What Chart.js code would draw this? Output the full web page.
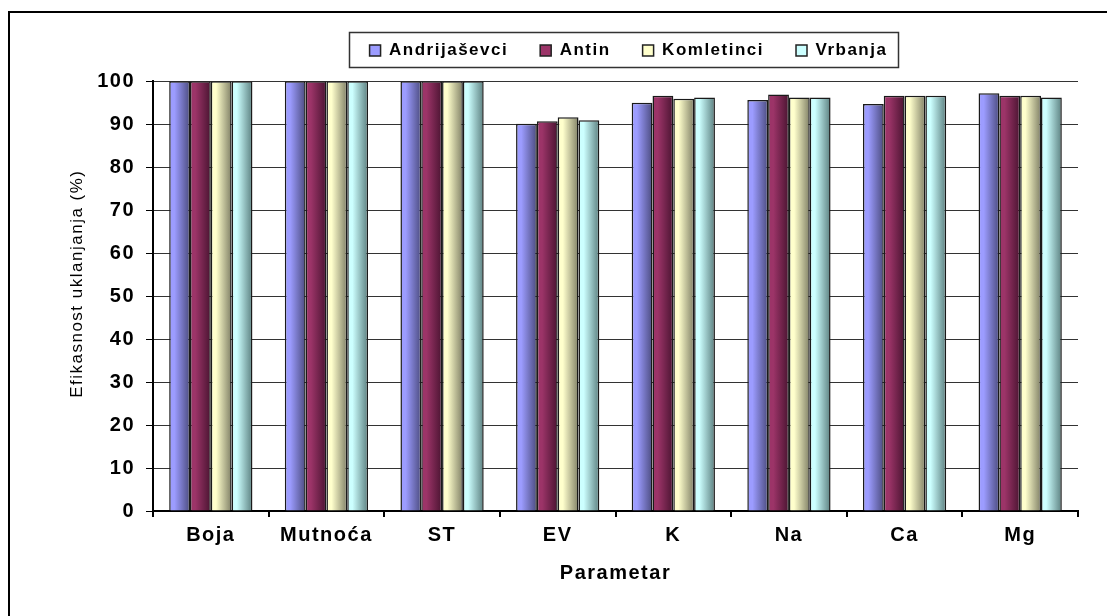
<!DOCTYPE html>
<html>
<head>
<meta charset="utf-8">
<script src="https://cdn.jsdelivr.net/npm/chart.js@4"></script>
<style>
  html, body { margin: 0; padding: 0; background: #fff; }
  #wrap { width: 1107px; height: 616px; }
</style>
</head>
<body>
<div id="wrap"><canvas id="myBarChart" width="1107" height="616"></canvas></div>
<script>
// Data til grafen
var parametri = ["Boja", "Mutnoća", "ST", "EV", "K", "Na", "Ca", "Mg"];
var andrijasevci = [100, 100, 100, 90.1, 95.0, 95.6, 94.7, 97.2];
var antin = [100, 100, 100, 90.7, 96.6, 96.9, 96.6, 96.6];
var komletinci = [100, 100, 100, 91.6, 95.9, 96.2, 96.6, 96.6];
var vrbanja = [100, 100, 100, 90.9, 96.2, 96.2, 96.6, 96.2];
var yTicks = [0, 10, 20, 30, 40, 50, 60, 70, 80, 90, 100];

var serieNames = ["Andrijaševci", "Antin", "Komletinci", "Vrbanja"];
var lightColors = ["#9c9cff", "#9c3468", "#ffffcc", "#ccffff"];
var darkColors = ["#4c4c80", "#4a1431", "#808066", "#5c8080"];
var GROUP = 0.72;

// gradient for every bar, light left -> dark right
function barGradient(c) {
    var chart = c.chart;
    var ds = c.datasetIndex;
    var xs = chart.scales.x;
    if (!chart.chartArea || !xs || c.dataIndex === undefined) return lightColors[ds];
    var catW = xs.width / parametri.length;
    var barW = catW * GROUP / 4;
    var center = xs.getPixelForValue(c.dataIndex);
    var left = center - catW * GROUP / 2 + ds * barW;
    var g = chart.ctx.createLinearGradient(left, 0, left + barW, 0);
    g.addColorStop(0, lightColors[ds]);
    g.addColorStop(0.25, lightColors[ds]);
    g.addColorStop(1, darkColors[ds]);
    return g;
}

var seriesData = [andrijasevci, antin, komletinci, vrbanja];
var data = {
    labels: parametri,
    datasets: serieNames.map(function (name, i) {
        return {
            label: name,
            data: seriesData[i],
            backgroundColor: barGradient,
            borderColor: "#1a1a1a",
            borderWidth: 1.5,
            borderSkipped: "bottom",
            categoryPercentage: GROUP,
            barPercentage: 1.0
        };
    })
};

// Excel-agtig bred skrift
function spacing(chart) { chart.ctx.letterSpacing = "1.5px"; }

// ramme og legendeboks
var framePlugin = {
    id: "frame",
    beforeUpdate: spacing,
    beforeLayout: spacing,
    afterLayout: function (chart) {
        chart.legend.left += 56;
        chart.legend.right += 56;
    },
    beforeDraw: function (chart) {
        spacing(chart);
        var ctx = chart.ctx;
        ctx.save();
        ctx.fillStyle = "#fff";
        ctx.fillRect(0, 0, chart.width, chart.height);
        ctx.strokeStyle = "#000";
        ctx.lineWidth = 2;
        ctx.beginPath();
        ctx.moveTo(1107, 12);
        ctx.lineTo(9, 12);
        ctx.lineTo(9, 616);
        ctx.stroke();
        ctx.strokeStyle = "#333";
        ctx.lineWidth = 1.5;
        ctx.strokeRect(349.5, 32.5, 549, 35);
        ctx.restore();
    }
};

var tickFont = { family: "'Liberation Sans', Arial, sans-serif", size: 20, weight: "bold" };

var options = {
    responsive: false,
    animation: false,
    layout: { padding: { left: 67, right: 29, top: 10, bottom: 31 } },
    plugins: {
        tooltip: { enabled: false },
        title: {
            display: true,
            text: "",
            weight: 500,
            font: { size: 1 },
            padding: { top: 0, bottom: 11 }
        },
        legend: {
            position: "top",
            align: "center",
            labels: {
                font: { family: "'Liberation Sans', Arial, sans-serif", size: 17, weight: "bold" },
                color: "#000",
                boxWidth: 11,
                boxHeight: 11,
                padding: 32,
                generateLabels: function (chart) {
                    return serieNames.map(function (n, i) {
                        return {
                            text: n,
                            fillStyle: lightColors[i],
                            strokeStyle: "#222",
                            lineWidth: 1.5,
                            datasetIndex: i,
                            fontColor: "#000"
                        };
                    });
                }
            }
        }
    },
    scales: {
        x: {
            offset: true,
            grid: {
                display: true,
                drawOnChartArea: false,
                drawTicks: true,
                tickLength: 6,
                color: "#000",
                lineWidth: 2,
                offset: true
            },
            border: { display: true, color: "#000", width: 2 },
            ticks: { font: tickFont, color: "#000", padding: 6 },
            title: {
                display: true,
                text: "Parametar",
                font: tickFont,
                color: "#000",
                padding: { top: 10, bottom: 0 }
            },
            afterFit: function (s) { s.height = 74; }
        },
        y: {
            min: 0,
            max: 100,
            afterBuildTicks: function (s) { s.ticks = yTicks.map(function (v) { return { value: v }; }); },
            grid: {
                color: "#333",
                lineWidth: 1,
                drawTicks: true,
                tickLength: 7,
                tickColor: "#000"
            },
            border: { display: true, color: "#000", width: 2 },
            ticks: { font: tickFont, color: "#000", padding: 11 },
            title: {
                display: true,
                text: "\u00a0\u00a0\u00a0\u00a0Efikasnost uklanjanja (%)",
                font: { family: "'Liberation Sans', Arial, sans-serif", size: 17 },
                color: "#000",
                padding: { top: 0, bottom: 6 }
            },
            afterFit: function (s) { s.width = 86; }
        }
    }
};

// Hent canvas og opret grafen
var ctx = document.getElementById("myBarChart").getContext("2d");
var myBarChart = new Chart(ctx, {
    type: "bar",
    data: data,
    options: options,
    plugins: [framePlugin]
});
</script>
</body>
</html>
